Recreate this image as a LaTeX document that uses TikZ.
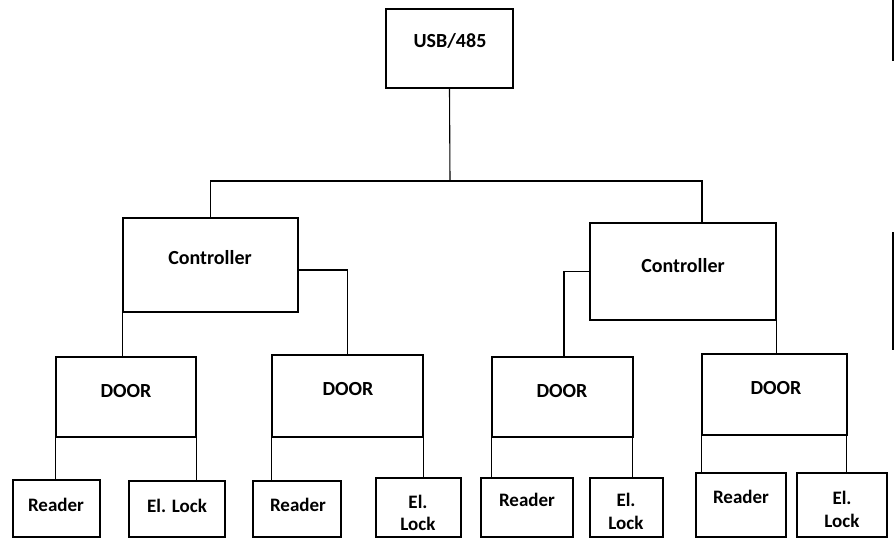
\documentclass[tikz,border=0pt]{standalone}
\usepackage{fontspec}
\setmainfont{Carlito}
\usetikzlibrary{calc}
\begin{document}
\begin{tikzpicture}[x=1pt,y=-1pt,
  box/.style={draw=black,line width=1.8pt,rectangle,inner sep=0pt},
  txt/.style={font=\fontsize{20}{21}\selectfont\bfseries,inner sep=0pt,align=center},
  stxt/.style={font=\fontsize{19}{21}\selectfont\bfseries,inner sep=0pt,align=center},
  wire/.style={draw=black,line width=1.1pt}]
\useasboundingbox (0,0) rectangle (895,538);
\clip (0,0) rectangle (895,538);
% top
\node[box,minimum width=127pt,minimum height=79pt] (usb) at (449.5,48.5) {};
\node[txt] (usbt) at (450,41) {USB/485};
% controllers
\node[box,minimum width=175pt,minimum height=94pt] (c1) at (210.5,265) {};
\node[txt] (c1t) at (210,258) {Controller};
\node[box,minimum width=186pt,minimum height=97pt] (c2) at (683,271.5) {};
\node[txt] (c2t) at (683,266) {Controller};
% doors
\node[box,minimum width=140pt,minimum height=80pt] (d1) at (126,397) {};
\node[txt] (d1t) at (126,391) {DOOR};
\node[box,minimum width=151pt,minimum height=82pt] (d2) at (347.5,396) {};
\node[txt] (d2t) at (348,389) {DOOR};
\node[box,minimum width=141pt,minimum height=80pt] (d3) at (562.5,397) {};
\node[txt] (d3t) at (562,391) {DOOR};
\node[box,minimum width=145pt,minimum height=81pt] (d4) at (774.5,394.5) {};
\node[txt] (d4t) at (776,388) {DOOR};
% bottom boxes
\node[box,minimum width=87pt,minimum height=57pt] (r1) at (56.5,508.5) {};
\node[stxt] (r1t) at (56,505) {Reader};
\node[box,minimum width=96pt,minimum height=56pt] (l1) at (177,509) {};
\node[stxt] (l1t) at (177,506) {El. Lock};
\node[box,minimum width=88pt,minimum height=56pt] (r2) at (297,509) {};
\node[stxt] (r2t) at (298,505) {Reader};
\node[box,minimum width=85pt,minimum height=59pt] (l2) at (418.5,507.5) {};
\node[stxt] (l2t) at (418,502) {El.};
\node[stxt] (l2u) at (418,524) {Lock};
\node[box,minimum width=92pt,minimum height=59pt] (r3) at (527,507.5) {};
\node[stxt] (r3t) at (527,500) {Reader};
\node[box,minimum width=73pt,minimum height=59pt] (l3) at (626.5,507.5) {};
\node[stxt] (l3t) at (626,500) {El.};
\node[stxt] (l3u) at (626,523) {Lock};
\node[box,minimum width=90pt,minimum height=64pt] (r4) at (741,505) {};
\node[stxt] (r4t) at (741,497) {Reader};
\node[box,minimum width=90pt,minimum height=64pt] (l4) at (842,505) {};
\node[stxt] (l4t) at (842,498) {El.};
\node[stxt] (l4u) at (842,521) {Lock};
% connectors
\coordinate (bus) at (450,181);
\draw[wire] (usb.south) -- (bus);
\draw[wire] (c1.north) -- (c1.north |- bus) -| ([xshift=19pt]c2.north);
\draw[wire] (c1.south west) -- (c1.south west |- d1.north);
\draw[wire] ([yshift=-5pt]c1.east) -| (d2.north);
\draw[wire] (c2.west) -| ([xshift=1.5pt]d3.north);
\draw[wire] (c2.south east) -- (c2.south east |- d4.north);
\draw[wire] (d1.south west) -- (d1.south west |- r1.north);
\draw[wire] (d1.south east) -- (d1.south east |- l1.north);
\draw[wire] (d2.south west) -- (d2.south west |- r2.north);
\draw[wire] (d2.south east) -- (d2.south east |- l2.north);
\draw[wire] (d3.south west) -- (d3.south west |- r3.north);
\draw[wire] ([xshift=-1pt]d3.south east) -- ([xshift=-1pt]d3.south east |- l3.north);
\draw[wire] (d4.south west) -- (d4.south west |- r4.north);
\draw[wire] ([xshift=-1pt]d4.south east) -- ([xshift=-1pt]d4.south east |- l4.north);
% edge marks at right border
\draw[line width=1.6pt] (893,0) -- (893,61);
\draw[line width=1.2pt] (893,232) -- (893,350);
\end{tikzpicture}
\end{document}
